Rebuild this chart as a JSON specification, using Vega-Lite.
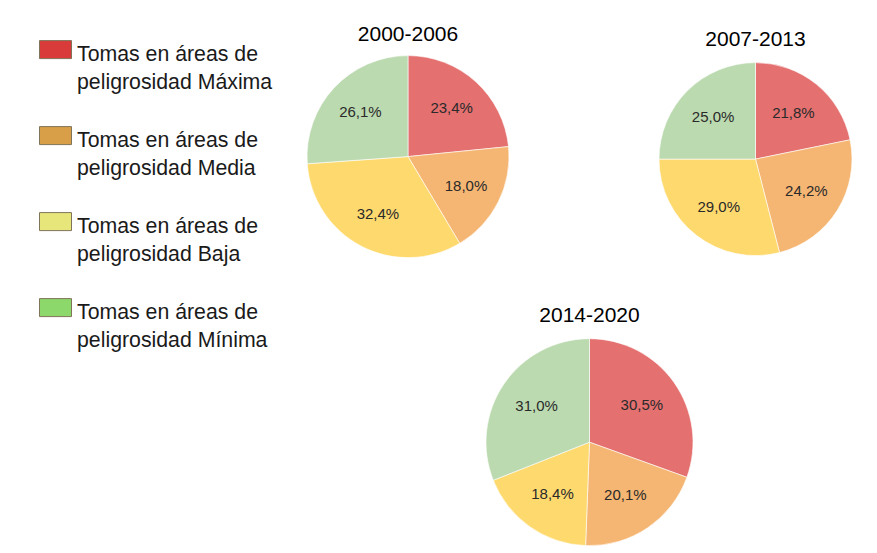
{
  "$schema": "https://vega.github.io/schema/vega-lite/v6.json",
  "padding": {"left": 39, "top": 23.6, "right": 0, "bottom": 0},
  "background": "#ffffff",
  "config": {
    "font": "Liberation Sans",
    "view": {"stroke": null},
    "locale": {"number": {"decimal": ",", "thousands": ".", "grouping": [3], "currency": ["", " €"]}},
    "title": {"fontSize": 21, "font": "Liberation Sans", "fontWeight": "normal", "color": "#000000", "baseline": "alphabetic", "anchor": "middle"},
    "style": {"guide-label": {"lineHeight": 28, "dy": 5}}
  },
  "data": {"values": [
    {"periodo": "2000-2006", "categoria": "Tomas en áreas de peligrosidad Máxima", "orden": 1, "pct": 0.234},
    {"periodo": "2000-2006", "categoria": "Tomas en áreas de peligrosidad Media", "orden": 2, "pct": 0.180},
    {"periodo": "2000-2006", "categoria": "Tomas en áreas de peligrosidad Baja", "orden": 3, "pct": 0.324},
    {"periodo": "2000-2006", "categoria": "Tomas en áreas de peligrosidad Mínima", "orden": 4, "pct": 0.261},
    {"periodo": "2007-2013", "categoria": "Tomas en áreas de peligrosidad Máxima", "orden": 1, "pct": 0.218},
    {"periodo": "2007-2013", "categoria": "Tomas en áreas de peligrosidad Media", "orden": 2, "pct": 0.242},
    {"periodo": "2007-2013", "categoria": "Tomas en áreas de peligrosidad Baja", "orden": 3, "pct": 0.290},
    {"periodo": "2007-2013", "categoria": "Tomas en áreas de peligrosidad Mínima", "orden": 4, "pct": 0.250},
    {"periodo": "2014-2020", "categoria": "Tomas en áreas de peligrosidad Máxima", "orden": 1, "pct": 0.305},
    {"periodo": "2014-2020", "categoria": "Tomas en áreas de peligrosidad Media", "orden": 2, "pct": 0.201},
    {"periodo": "2014-2020", "categoria": "Tomas en áreas de peligrosidad Baja", "orden": 3, "pct": 0.184},
    {"periodo": "2014-2020", "categoria": "Tomas en áreas de peligrosidad Mínima", "orden": 4, "pct": 0.310}
  ]},
  "spacing": 36.6,
  "vconcat": [
    {
      "hconcat": [
        {
          "width": 212, "height": 212,
          "title": {"text": "2000-2006", "offset": 6},
          "transform": [{"filter": "datum.periodo === '2000-2006'"}],
          "encoding": {"theta": {"field": "pct", "type": "quantitative", "stack": true}, "order": {"field": "orden", "type": "quantitative"}},
          "layer": [
            {"mark": {"type": "arc", "radius": 101, "stroke": "#ffffff", "strokeWidth": 0.6},
             "encoding": {"fill": {"field": "categoria", "type": "nominal", "legend": null, "sort": {"field": "orden", "op": "min"},
               "scale": {"range": ["#e47070", "#f5b673", "#fed96e", "#bcdab0"]}}}},
            {"mark": {"type": "text", "radius": 65, "fontSize": 15, "fill": "#2a2a2a"},
             "encoding": {"text": {"field": "pct", "type": "quantitative", "format": ".1%"}}},
            {"mark": {"type": "arc", "radius": 0, "opacity": 0, "stroke": "#7f7358"},
             "encoding": {"color": {"field": "categoria", "type": "nominal",
               "scale": {"domain": ["Tomas en áreas de peligrosidad Máxima", "Tomas en áreas de peligrosidad Media", "Tomas en áreas de peligrosidad Baja", "Tomas en áreas de peligrosidad Mínima"], "range": ["#d93b3b", "#d99e48", "#e6e67a", "#8cd86a"]},
               "legend": {"title": null, "orient": "none", "legendX": -263, "legendY": -17.5, "padding": 0,
                 "symbolType": "M-1,-0.5625H1V0.5625H-1Z", "symbolSize": 1024, "symbolOpacity": 1,
                 "symbolStrokeColor": "#7f7358", "symbolStrokeWidth": 1,
                 "labelFontSize": 21.3, "labelFont": "Liberation Sans", "labelColor": "#1a1a1a", "labelOffset": 5, "labelLimit": 400,
                 "rowPadding": 26,
                 "labelExpr": "['Tomas en áreas de', slice(datum.label, 18)]"}}}}
          ]
        },
        {
          "width": 200, "height": 217,
          "title": {"text": "2007-2013", "offset": 1},
          "transform": [{"filter": "datum.periodo === '2007-2013'"}],
          "encoding": {"theta": {"field": "pct", "type": "quantitative", "stack": true}, "order": {"field": "orden", "type": "quantitative"}},
          "layer": [
            {"mark": {"type": "arc", "radius": 96.5, "stroke": "#ffffff", "strokeWidth": 0.6},
             "encoding": {"fill": {"field": "categoria", "type": "nominal", "legend": null, "sort": {"field": "orden", "op": "min"},
               "scale": {"range": ["#e47070", "#f5b673", "#fed96e", "#bcdab0"]}}}},
            {"mark": {"type": "text", "radius": 60, "fontSize": 15, "fill": "#2a2a2a"},
             "encoding": {"text": {"field": "pct", "type": "quantitative", "format": ".1%"}}}
          ]
        }
      ],
      "bounds": "flush",
      "spacing": 141.5
    },
    {
      "width": 575, "height": 200,
      "title": {"text": "2014-2020", "offset": 11.5},
      "transform": [{"filter": "datum.periodo === '2014-2020'"}],
      "encoding": {"theta": {"field": "pct", "type": "quantitative", "stack": true}, "order": {"field": "orden", "type": "quantitative"}},
      "layer": [
        {"mark": {"type": "arc", "radius": 103.5, "stroke": "#ffffff", "strokeWidth": 0.6},
         "encoding": {"fill": {"field": "categoria", "type": "nominal", "legend": null, "sort": {"field": "orden", "op": "min"},
           "scale": {"range": ["#e47070", "#f5b673", "#fed96e", "#bcdab0"]}}}},
        {"mark": {"type": "text", "radius": 64, "fontSize": 15, "fill": "#2a2a2a"},
         "encoding": {"text": {"field": "pct", "type": "quantitative", "format": ".1%"}}}
      ]
    }
  ]
}
